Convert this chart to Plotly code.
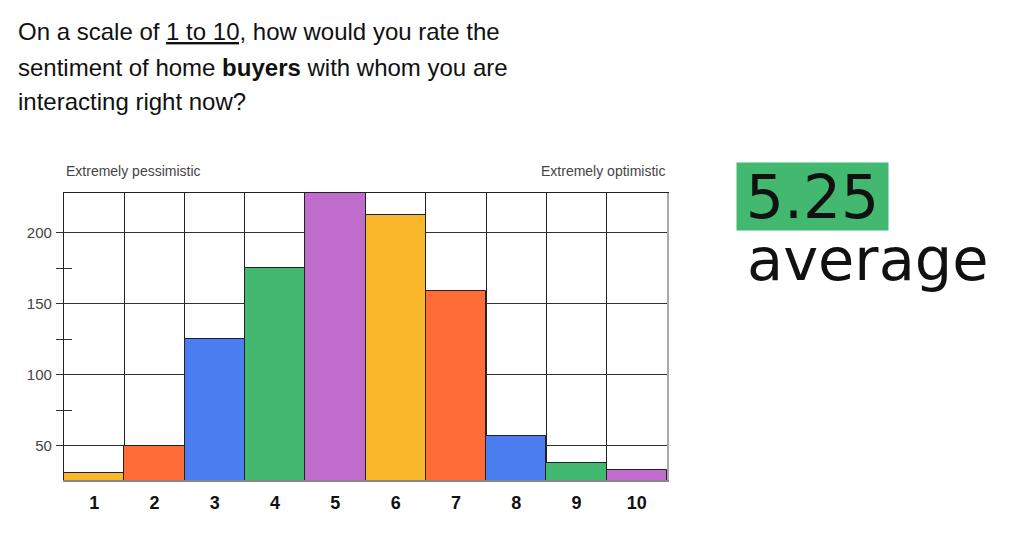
import plotly.graph_objects as go

# survey answers, 1 = extremely pessimistic ... 10 = extremely optimistic
ratings = [1, 2, 3, 4, 5, 6, 7, 8, 9, 10]
responses = [31, 50, 125, 175, 235, 213, 159, 57, 38, 33]
bar_colors = ["#FBB72C", "#FF6C38", "#4A7EF0", "#42B870", "#BF6CCD",
              "#FBB72C", "#FF6C38", "#4A7EF0", "#42B870", "#BF6CCD"]
y_ticks = [50, 100, 150, 200]
y_minor_ticks = [75, 125, 175]
y_range = [25.8, 228.2]
average = 5.25

W, H = 1024, 538
OFF = 8  # page body margin shifts the whole figure
L, R, T, B = 64 - OFF, W - 667 + OFF, 193 - OFF, H - 480 + OFF
FONT = "Liberation Sans"


def px(x):
    # screen pixel -> paper x
    return (x - OFF - L) / (W - L - R)


def py(y):
    # screen pixel -> paper y
    return (H - B - (y - OFF)) / (H - T - B)


fig = go.Figure()
fig.add_trace(go.Bar(
    x=ratings,
    y=responses,
    marker=dict(color=bar_colors, line=dict(color="#222222", width=1)),
    width=1,
    hoverinfo="x+y",
))

fig.update_layout(
    width=W, height=H,
    margin=dict(l=L, r=R, t=T, b=B),
    paper_bgcolor="white",
    plot_bgcolor="white",
    showlegend=False,
    bargap=0,
    font=dict(family=FONT, color="#111111"),
    xaxis=dict(
        range=[0.5, 10.5],
        tickvals=ratings,
        ticks="",
        ticklabelstandoff=5,
        tickfont=dict(size=18, weight=700, color="#111111"),
        showgrid=False,
        zeroline=False,
        showline=True, linecolor="#888888", linewidth=2,
        minor=dict(tick0=0.5, dtick=1, showgrid=True, gridcolor="#222222", gridwidth=1.3),
        fixedrange=True,
    ),
    xaxis2=dict(
        overlaying="x", side="top", range=[0.5, 10.5],
        showticklabels=False, ticks="", showgrid=False, zeroline=False,
        showline=True, linecolor="#222222", linewidth=1.3,
    ),
    yaxis=dict(
        range=y_range,
        tickvals=y_ticks,
        ticks="outside", ticklen=7, tickcolor="#333333", tickwidth=1.3,
        ticklabelstandoff=1,
        tickfont=dict(size=15, color="#444444"),
        showgrid=True, gridcolor="#333333", gridwidth=1.3,
        zeroline=False,
        showline=True, linecolor="#222222", linewidth=1.3,
        minor=dict(tickvals=y_minor_ticks, ticks="outside", ticklen=7,
                   tickcolor="#333333", tickwidth=1.3, showgrid=False),
        fixedrange=True,
    ),
    yaxis2=dict(
        overlaying="y", side="left", range=y_range,
        tickvals=y_minor_ticks, ticks="inside", ticklen=8,
        tickcolor="#333333", tickwidth=1.3,
        showticklabels=False, showgrid=False, zeroline=False, showline=False,
    ),
    yaxis3=dict(
        overlaying="y", side="right", range=y_range,
        showticklabels=False, ticks="", showgrid=False, zeroline=False,
        showline=True, linecolor="#AAAAAA", linewidth=2,
    ),
)

# invisible traces so the extra axes get drawn
fig.add_trace(go.Scatter(x=[None], y=[None], xaxis="x2", yaxis="y2", hoverinfo="skip"))
fig.add_trace(go.Scatter(x=[None], y=[None], xaxis="x", yaxis="y3", hoverinfo="skip"))

title_lines = [
    "On a scale of <u>1 to 10,</u> how would you rate the",
    "sentiment of home <b>buyers</b> with whom you are",
    "interacting right now?",
]
for line, yc in zip(title_lines, [31, 67, 102]):
    fig.add_annotation(
        text=line, xref="paper", yref="paper", x=px(16), y=py(yc),
        xanchor="left", yanchor="middle", showarrow=False,
        font=dict(family=FONT, size=24, color="#111111"),
    )

fig.add_annotation(
    text="Extremely pessimistic", xref="paper", yref="paper", x=0, y=py(171),
    xanchor="left", yanchor="middle", showarrow=False,
    font=dict(family=FONT, size=14, color="#444444"),
)
fig.add_annotation(
    text="Extremely optimistic", xref="paper", yref="paper", x=1, y=py(171),
    xanchor="right", yanchor="middle", showarrow=False,
    font=dict(family=FONT, size=14, color="#444444"),
)

fig.add_annotation(
    text=f"{average:.2f}", xref="paper", yref="paper", x=px(812.5), y=py(196.5),
    xanchor="center", yanchor="middle", showarrow=False,
    width=151, height=67, bgcolor="#42B870", borderpad=0,
    font=dict(family="DejaVu Sans", size=60, color="#111111"),
)
# "average" has no ascenders, so a short box aligned to the bottom is enough
fig.add_annotation(
    text="average", xref="paper", yref="paper", x=px(745), y=py(296),
    xanchor="left", yanchor="bottom", valign="bottom", showarrow=False, height=56,
    font=dict(family="DejaVu Sans", size=59, color="#111111"),
)

fig.write_html("out.html", config={"displayModeBar": False})
